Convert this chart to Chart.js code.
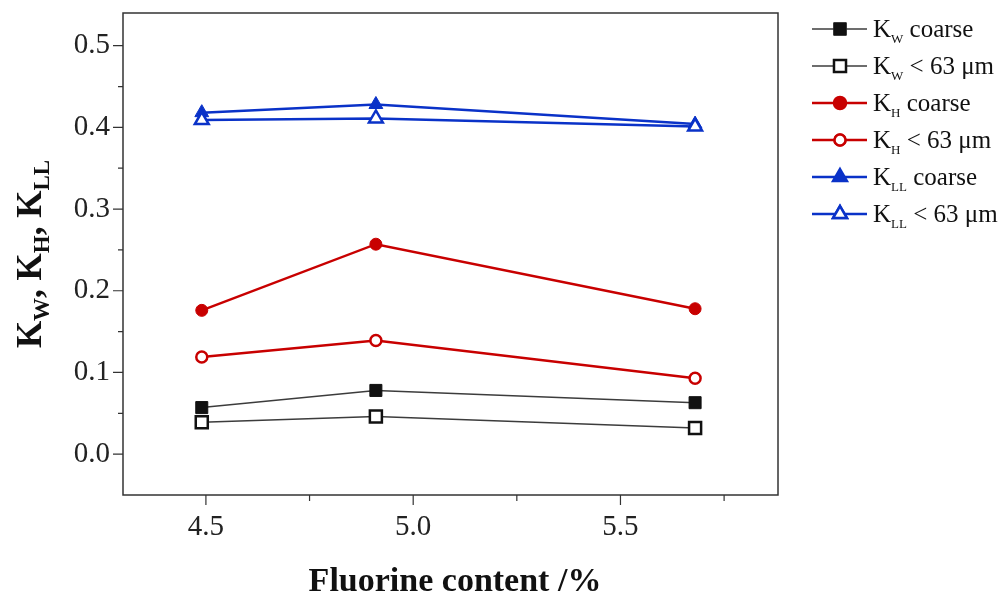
<!DOCTYPE html>
<html>
<head>
<meta charset="utf-8">
<script src="https://cdn.jsdelivr.net/npm/chart.js@4.4.0/dist/chart.umd.min.js"></script>
<style>
  html, body { margin: 0; padding: 0; background: #fff; }
  #wrap { width: 1005px; height: 595px; position: relative; }
</style>
</head>
<body>
<div id="wrap"><canvas id="grafico" width="1005" height="595"></canvas></div>
<script>
// dados
const fluorine = [4.49, 4.91, 5.68];
const kwCoarse = [0.057, 0.078, 0.063];
const kwFine = [0.039, 0.046, 0.032];
const khCoarse = [0.176, 0.257, 0.178];
const khFine = [0.119, 0.139, 0.093];
const kllCoarse = [0.418, 0.428, 0.404];
const kllFine = [0.409, 0.411, 0.401];

const xTicks = [4.5, 5.0, 5.5];
const xMinorTicks = [4.75, 5.25, 5.75];
const yTicks = [0.0, 0.1, 0.2, 0.3, 0.4, 0.5];
const yMinorTicks = [0.05, 0.15, 0.25, 0.35, 0.45];

const SERIF = '"Liberation Serif", "DejaVu Serif", serif';
const BLACK = '#111111';
const GRAY = '#3c3c3c';
const RED = '#c80000';
const BLUE = '#0a32c8';

// series: texto da legenda = K + subscrito + resto
const series = [
    { sub: 'W', rest: ' coarse', values: kwCoarse, color: BLACK, lineColor: GRAY, style: 'rect', filled: true, radius: 8.5, line: 1.5, order: 1 },
    { sub: 'W', rest: ' < 63 μm', values: kwFine, color: BLACK, lineColor: GRAY, style: 'rect', filled: false, radius: 8.5, line: 1.5, order: 0 },
    { sub: 'H', rest: ' coarse', values: khCoarse, color: RED, lineColor: RED, style: 'circle', filled: true, radius: 6, line: 2.5, order: 1 },
    { sub: 'H', rest: ' < 63 μm', values: khFine, color: RED, lineColor: RED, style: 'circle', filled: false, radius: 5.5, line: 2.5, order: 0 },
    { sub: 'LL', rest: ' coarse', values: kllCoarse, color: BLUE, lineColor: BLUE, style: 'triangle', filled: true, radius: 8, line: 2.5, order: 1 },
    { sub: 'LL', rest: ' < 63 μm', values: kllFine, color: BLUE, lineColor: BLUE, style: 'triangle', filled: false, radius: 8, line: 2.5, order: 0 }
];

// desenha texto com subscritos: parts = [[texto, ehSub], ...]
function drawRich(ctx, parts, x, y, size, subScale, bold, align) {
    const w = bold ? 'bold ' : '';
    const subSize = Math.round(size * subScale);
    let total = 0;
    parts.forEach(p => {
        ctx.font = w + (p[1] ? subSize : size) + 'px ' + SERIF;
        total += ctx.measureText(p[0]).width;
    });
    let cx = align === 'center' ? x - total / 2 : x;
    ctx.textAlign = 'left';
    ctx.textBaseline = 'alphabetic';
    parts.forEach(p => {
        ctx.font = w + (p[1] ? subSize : size) + 'px ' + SERIF;
        ctx.fillText(p[0], cx, p[1] ? y + size * 0.24 : y);
        cx += ctx.measureText(p[0]).width;
    });
}

// remove o recuo automatico que a escala pede para os rotulos
function semRecuo(scale) {
    scale.paddingTop = 0;
    scale.paddingBottom = 0;
    scale.paddingLeft = 0;
    scale.paddingRight = 0;
}

const decoracao = {
    id: 'decoracao',
    afterDatasetsDraw(chart) {
        const ctx = chart.ctx;
        const a = chart.chartArea;
        const xs = chart.scales.x;
        const ys = chart.scales.y;
        ctx.save();
        ctx.strokeStyle = '#333';
        ctx.lineWidth = 1.5;
        ctx.strokeRect(a.left, a.top, a.right - a.left, a.bottom - a.top);

        ctx.lineWidth = 1.2;
        ctx.beginPath();
        yTicks.forEach(v => { const p = ys.getPixelForValue(v); ctx.moveTo(a.left - 10, p); ctx.lineTo(a.left, p); });
        yMinorTicks.forEach(v => { const p = ys.getPixelForValue(v); ctx.moveTo(a.left - 5, p); ctx.lineTo(a.left, p); });
        xTicks.forEach(v => { const p = xs.getPixelForValue(v); ctx.moveTo(p, a.bottom); ctx.lineTo(p, a.bottom + 10); });
        xMinorTicks.forEach(v => { const p = xs.getPixelForValue(v); ctx.moveTo(p, a.bottom); ctx.lineTo(p, a.bottom + 6); });
        ctx.stroke();

        ctx.fillStyle = '#111';
        // titulo do eixo x
        ctx.font = 'bold 34px ' + SERIF;
        ctx.textAlign = 'center';
        ctx.textBaseline = 'alphabetic';
        ctx.fillText('Fluorine content /%', 455, 591);

        // titulo do eixo y
        ctx.save();
        ctx.translate(41, 254);
        ctx.rotate(-Math.PI / 2);
        drawRich(ctx, [['K', false], ['W', true], [', K', false], ['H', true], [', K', false], ['LL', true]], 0, 0, 35, 0.66, true, 'center');
        ctx.restore();

        // legenda
        series.forEach((s, i) => {
            const y = 29 + i * 37;
            ctx.strokeStyle = s.lineColor;
            ctx.lineWidth = s.line;
            ctx.beginPath();
            ctx.moveTo(812, y);
            ctx.lineTo(867, y);
            ctx.stroke();
            Chart.helpers.drawPoint(ctx, {
                pointStyle: s.style,
                radius: s.radius,
                rotation: 0,
                borderWidth: 2.5
            }, 840, y);
            ctx.fillStyle = s.filled ? s.color : '#fff';
            ctx.strokeStyle = s.color;
            ctx.lineWidth = s.filled ? 1 : 2.5;
            ctx.fill();
            ctx.stroke();
            ctx.fillStyle = '#111';
            drawRich(ctx, [['K', false], [s.sub, true], [s.rest, false]], 873, y + 8, 25, 0.52, false, 'left');
        });
        ctx.restore();
    }
};

new Chart(document.getElementById('grafico'), {
    type: 'line',
    data: {
        datasets: series.map(s => ({
            data: fluorine.map((x, i) => ({ x: x, y: s.values[i] })),
            borderColor: s.lineColor,
            borderWidth: s.line,
            pointStyle: s.style,
            pointRadius: s.radius,
            pointBorderWidth: s.filled ? 1 : 2.5,
            pointBorderColor: s.color,
            pointBackgroundColor: s.filled ? s.color : '#ffffff',
            tension: 0,
            fill: false,
            order: s.order
        }))
    },
    options: {
        responsive: false,
        animation: false,
        layout: { autoPadding: false, padding: { top: 13, right: 227, left: 0, bottom: 0 } },
        plugins: { legend: { display: false }, tooltip: { enabled: false } },
        scales: {
            x: {
                type: 'linear',
                min: 4.3,
                max: 5.88,
                afterBuildTicks: scale => { scale.ticks = xTicks.map(v => ({ value: v })); },
                afterFit: scale => { scale.height = 100; semRecuo(scale); },
                grid: { display: false, drawTicks: true, tickLength: 10 },
                border: { display: false },
                ticks: {
                    color: '#222',
                    font: { family: SERIF, size: 29 },
                    padding: 5,
                    maxRotation: 0,
                    callback: v => v.toFixed(1)
                }
            },
            y: {
                min: -0.05,
                max: 0.54,
                afterBuildTicks: scale => { scale.ticks = yTicks.map(v => ({ value: v })); },
                afterFit: scale => { scale.width = 123; semRecuo(scale); },
                grid: { display: false, drawTicks: true, tickLength: 10 },
                border: { display: false },
                ticks: {
                    color: '#222',
                    font: { family: SERIF, size: 29 },
                    padding: 3,
                    callback: v => v.toFixed(1)
                }
            }
        }
    },
    plugins: [decoracao]
});
</script>
</body>
</html>
